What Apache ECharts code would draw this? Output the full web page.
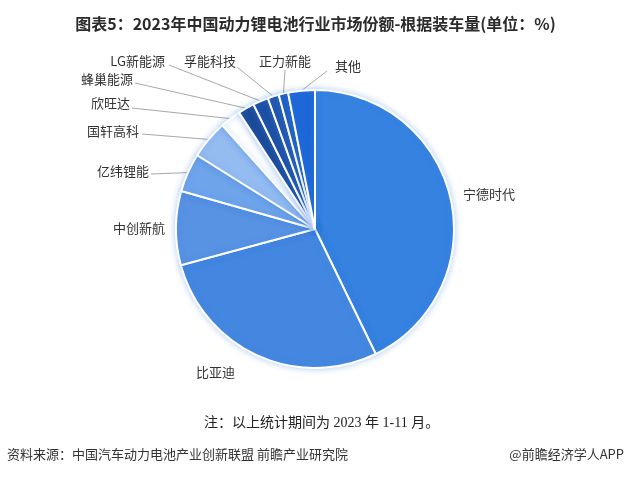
<!DOCTYPE html>
<html>
<head>
<meta charset="utf-8">
<script src="https://cdn.jsdelivr.net/npm/echarts@6/dist/echarts.min.js"></script>
<style>html,body{margin:0;padding:0;background:#fff;}#c{width:631px;height:477px;}</style>
</head>
<body>
<div id="c"></div>
<script>
// ---- data ----
const categories = ['宁德时代','比亚迪','中创新航','亿纬锂能','国轩高科','欣旺达','蜂巢能源','LG新能源','孚能科技','正力新能','其他'];
const shares = [42.8, 28.0, 8.6, 4.5, 4.5, 2.4, 1.9, 1.8, 1.3, 1.1, 3.1];

// ---- styles ----
const colors = ['#3582e1','#4487e0','#5792e3','#6ea4ea','#94bcf1','#ffffff','#1b4a98','#1e4fa3','#2155ae','#1f5dc2','#1e67d7'];
// label placement: [x, y, align, lineStartX, lineStartY, showLine]
const labelPlace = {
  '宁德时代': [463, 194, 'left', null, null, false],
  '比亚迪': [196, 372, 'left', null, null, false],
  '中创新航': [165, 228, 'right', null, null, false],
  '亿纬锂能': [149, 171, 'right', 151, 174, true],
  '国轩高科': [139, 131, 'right', 142, 134, true],
  '欣旺达': [130, 103, 'right', 132, 108, true],
  '蜂巢能源': [133, 79, 'right', 135, 83, true],
  'LG新能源': [165, 61, 'right', 169, 65, true],
  '孚能科技': [236, 61, 'right', 237, 67, true],
  '正力新能': [285, 61, 'center', 285, 70, true],
  '其他': [335, 66, 'left', 327, 71, true]
};

const chart = echarts.init(document.getElementById('c'), null, {renderer:'canvas'});
const font = '"Noto Sans CJK SC", "Noto Sans", sans-serif';
chart.setOption({
  backgroundColor: '#ffffff',
  animation: false,
  title: {
    text: '图表5：2023年中国动力锂电池行业市场份额-根据装车量(单位：%)',
    left: 'center', top: 11,
    textStyle: {fontSize: 16, fontWeight: 'bold', color: '#2b2b2b', fontFamily: font}
  },
  graphic: [
    {type:'text', left: 204, top: 416, style:{text:'注：以上统计期间为 2023 年 1-11 月。', fontSize: 14, fill:'#222', fontFamily:'"Liberation Serif", "Noto Sans CJK SC", serif'}},
    {type:'text', left: 7, top: 448, style:{text:'资料来源：中国汽车动力电池产业创新联盟 前瞻产业研究院', fontSize: 13, fill:'#333', fontFamily: font}},
    {type:'text', right: 7, top: 448, style:{text:'@前瞻经济学人APP', fontSize: 13, fill:'#333', fontFamily: font}}
  ],
  series: [{
    type: 'pie',
    center: [315, 229],
    radius: [0, 139],
    startAngle: 90,
    clockwise: true,
    avoidLabelOverlap: false,
    data: categories.map((n, i) => ({
      name: n, value: shares[i],
      itemStyle: {color: colors[i]},
      labelLine: {show: labelPlace[n][5]}
    })),
    itemStyle: {
      borderColor: '#ffffff', borderWidth: 2,
      shadowBlur: 6, shadowColor: 'rgba(60,130,220,0.35)'
    },
    label: {
      show: true, position: 'outside', formatter: '{b}',
      fontSize: 13, color: '#333', fontFamily: font
    },
    labelLine: {show: true, length: 10, length2: 10, lineStyle: {color: '#a8a8a8', width: 1}},
    labelLayout: function (p) {
      const n = categories[p.dataIndex];
      const lp = labelPlace[n];
      const res = {x: lp[0], y: lp[1], align: lp[2], verticalAlign: 'middle'};
      if (lp[5] && p.labelLinePoints) {
        const start = p.labelLinePoints[0];
        res.labelLinePoints = [[lp[3], lp[4]], [lp[3], lp[4]], start];
      }
      return res;
    }
  }]
});
</script>
</body>
</html>
